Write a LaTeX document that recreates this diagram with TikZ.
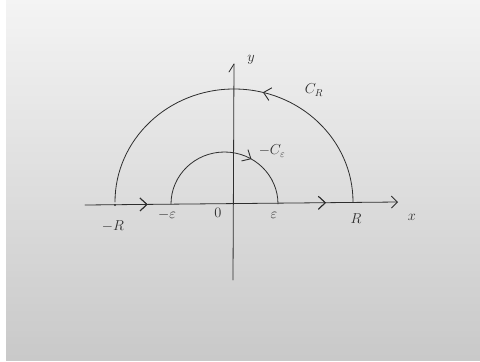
\documentclass[tikz,border=0pt]{standalone}
\usetikzlibrary{arrows.meta,decorations.markings,calc}
\definecolor{paperA}{HTML}{E9E9E9}
\definecolor{paperB}{HTML}{C9C9C9}
\definecolor{ink}{HTML}{2E2E2E}
\tikzset{
  pen/.style={draw=ink,line width=0.8pt,line cap=round,line join=round},
  lbl/.style={text=ink,inner sep=0pt,font=\Large},
  midbarb/.style={postaction={decorate},decoration={markings,mark=at position #1 with {\arrow[ink]{Straight Barb[length=7pt,width=13pt,line width=0.9pt]}}}}
}
\begin{document}
\begin{tikzpicture}[x=1pt,y=-1pt]
\useasboundingbox (0,0) rectangle (480,362);
\fill[white] (0,0) rectangle (480,362);
\shade[left color=paperA,right color=paperB,shading angle=0] (6,0) rectangle (480,360);
\shade[top color=paperA!0,bottom color=paperB,opacity=0.5] (6,0) rectangle (480,360);
% points
\coordinate (O) at (232,203);
\coordinate (xl) at (85,205);
\coordinate (xr) at (398,202);
\coordinate (yb) at (233,280);
\coordinate (yt) at (234,64);
\coordinate (mR) at (115,205);
\coordinate (pR) at (353,202);
\coordinate (me) at (171,204);
\coordinate (pe) at (278,203);
% axes
\draw[pen,midbarb=0.2,midbarb=0.77,-{Straight Barb[length=6pt,width=12pt,line width=0.9pt]}] (xl) -- (xr);
\draw[pen] (yb) -- (yt);
\draw[pen] (yt) -- ++(-5,8);
% outer contour C_R
\draw[pen,midbarb=0.42] (pR) arc[start angle=0,end angle=-180,x radius=119,y radius=113];
% inner contour -C_eps
\draw[pen,midbarb=0.67] (me) arc[start angle=180,end angle=360,x radius=53.5,y radius=52];
\fill[ink] (mR) circle (1.2pt);
% labels
\node[lbl] (lmR) at (113,226) {$-R$};
\node[lbl] (lme) at (167,215) {$-\varepsilon$};
\node[lbl] (l0) at (218,213) {$0$};
\node[lbl] (lpe) at (274,215) {$\varepsilon$};
\node[lbl] (lpR) at (356,219) {$R$};
\node[lbl] (lx) at (412,217) {$x$};
\node[lbl] (ly) at (251,60) {$y$};
\node[lbl] (lCR) at (314,90) {$C_R$};
\node[lbl] (lCe) at (272,151) {$-C_\varepsilon$};
\end{tikzpicture}
\end{document}
